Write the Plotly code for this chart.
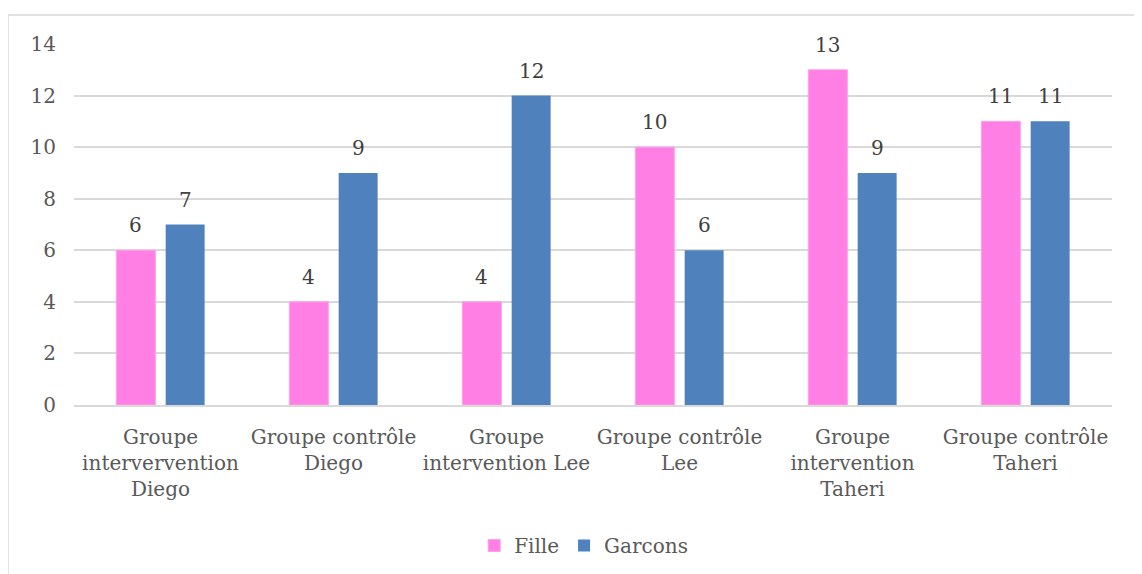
import plotly.graph_objects as go

categories = [
    "Groupe<br>intervervention<br>Diego",
    "Groupe contrôle<br>Diego",
    "Groupe<br>intervention Lee",
    "Groupe contrôle<br>Lee",
    "Groupe<br>intervention<br>Taheri",
    "Groupe contrôle<br>Taheri",
]
fille = [6, 4, 4, 10, 13, 11]
garcons = [7, 9, 12, 6, 9, 11]
y_ticks = [0, 2, 4, 6, 8, 10, 12, 14]

FONT = "DejaVu Serif"
TXT = "#595959"
FS = 20

fig = go.Figure()
fig.add_trace(go.Bar(
    x=categories, y=fille, name="Fille",
    marker=dict(color="#FF7FE4", line=dict(width=1, color="#FF9EEB")),
))
fig.add_trace(go.Bar(
    x=categories, y=garcons, name="Garcons",
    marker=dict(color="#4F81BD", line=dict(width=0)),
))

annotations = []
for cat, v in zip(categories, fille):
    annotations.append(dict(x=cat, y=v, text=str(v), showarrow=False, xshift=-24.75,
                            yanchor="bottom", yshift=11,
                            font=dict(family=FONT, size=FS, color="#404040")))
for cat, v in zip(categories, garcons):
    annotations.append(dict(x=cat, y=v, text=str(v), showarrow=False, xshift=24.75,
                            yanchor="bottom", yshift=11,
                            font=dict(family=FONT, size=FS, color="#404040")))

fig.update_layout(
    width=1134, height=566,
    margin=dict(l=66, r=30, t=36, b=169, autoexpand=False),
    paper_bgcolor="white", plot_bgcolor="white",
    barmode="group", bargap=0.43, bargroupgap=0.21,
    font=dict(family=FONT, size=FS, color=TXT),
    showlegend=True,
    legend=dict(orientation="h", x=0.491, xanchor="center", y=-0.335, yanchor="top",
                itemwidth=30,
                font=dict(family=FONT, size=FS, color=TXT)),
    annotations=annotations,
    shapes=[dict(type="rect", xref="paper", yref="paper",
                 x0=-0.0636, x1=1.0255, y0=-0.5, y1=1.0803,
                 line=dict(color="#D9D9D9", width=1.5), fillcolor="rgba(0,0,0,0)",
                 layer="below")],
)
fig.update_xaxes(showgrid=False, showline=True, linecolor="#D9D9D9", linewidth=1.5,
                 ticks="", automargin=False, ticklabelstandoff=13,
                 tickfont=dict(family=FONT, size=FS, color=TXT), tickangle=0)
fig.update_yaxes(range=[0, 14], tickvals=y_ticks, showgrid=True, gridcolor="#D9D9D9",
                 gridwidth=1.5, zeroline=False, showline=False, ticks="",
                 ticklabelstandoff=17, automargin=False,
                 tickfont=dict(family=FONT, size=FS, color=TXT))

fig.write_html("out.html")
